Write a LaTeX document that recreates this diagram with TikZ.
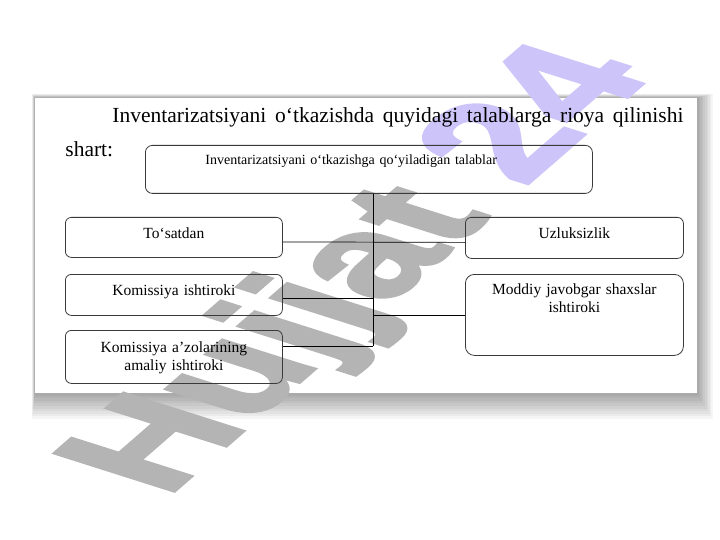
\documentclass[tikz,border=0pt]{standalone}
\usepackage{fontspec}
\setmainfont{Liberation Serif}
\newfontfamily\markfont{Liberation Sans Bold}[FakeBold=2.5]
\usetikzlibrary{positioning,calc}
\definecolor{boxline}{HTML}{3A3A3A}
\definecolor{markgray}{HTML}{B4B4B4}
\definecolor{markviolet}{HTML}{CDC5FA}
\tikzset{
  every picture/.append style={line width=0.8pt},
  box/.style={draw=boxline, rounded corners=6pt, align=center, inner sep=0pt, font=\fontsize{15.5}{18}\selectfont},
  link/.style={draw=black, line width=0.7pt},
  sheet/.style={fill=white},
}

\begin{document}
\begin{tikzpicture}[x=1pt,y=-1pt]
\useasboundingbox (0,0) rectangle (720,540);
% page with its shadow
\foreach \i in {1,...,10}
  \fill[black,opacity=0.04] (35-0.3*\i,98-0.4*\i) rectangle (697+1.6*\i,393+2.6*\i);
\fill[sheet] (35,98) rectangle (697,393);

% watermark
\node[anchor=base west, inner sep=0pt, rotate=41, xslant=-0.61, transform shape,
  font=\markfont\fontsize{155}{155}\selectfont, text=markgray] (mark) at (166,498)
  {Hujjat \textcolor{markviolet}{24}};

\node[anchor=base west, text width=618pt, align=justify, inner sep=0pt, font=\fontsize{21.5}{34}\selectfont] (intro) at (65,123)
  {\hspace*{47pt}Inventarizatsiyani o‘tkazishda quyidagi talablarga rioya qilinishi shart:};

% boxes
\node[box, anchor=north west, text width=447pt, text height=19pt, text depth=29pt, align=left, rounded corners=7pt, font=\fontsize{14}{17}\selectfont] (talablar) at (145,145)
  {\hspace*{60pt}Inventarizatsiyani o‘tkazishga qo‘yiladigan talablar};
\node[box, anchor=north west, text width=217pt, text height=21pt, text depth=19pt] (tosatdan) at (65,217) {To‘satdan};
\node[box, anchor=north west, text width=217pt, text height=21pt, text depth=20pt] (komissiya) at (65,274) {Komissiya ishtiroki};
\node[box, anchor=north west, text width=217pt, text height=22pt, text depth=31pt] (azolar) at (65,330) {Komissiya a’zolarining\\amaliy ishtiroki};
\node[box, anchor=north west, text width=218pt, text height=21pt, text depth=20pt] (uzluksizlik) at (465,217) {Uzluksizlik};
\node[box, anchor=north west, text width=218pt, text height=20pt, text depth=61pt, rounded corners=9pt] (moddiy) at (465,274) {Moddiy javobgar shaxslar\\ishtiroki};

% connectors
\coordinate (spinetop) at ([xshift=4.5pt]talablar.south);
\coordinate (spineend) at ($(spinetop |- azolar.east)+(0,-10.5)$);
\draw[link] (spinetop) -- (spineend);
\draw[link] ([yshift=-4.5pt]tosatdan.east) -- ([yshift=-4.5pt]uzluksizlik.west);
\draw[link] ($(komissiya.east)+(0,3.5)$) -- ($(komissiya.east -| spinetop)+(0,3.5)$);
\draw[link] (spineend -| azolar.east) -- (spineend);
\draw[link] (moddiy.west) -- (moddiy.west -| spinetop);
\end{tikzpicture}
\end{document}
